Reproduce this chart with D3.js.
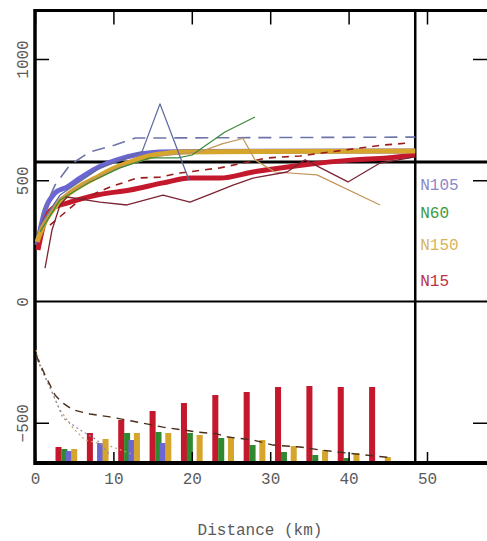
<!DOCTYPE html>
<html>
<head>
<meta charset="utf-8">
<script src="https://cdn.jsdelivr.net/npm/d3@7"></script>
<style>
  html, body { margin: 0; padding: 0; background: #fff; }
  svg { display: block; }
  text { font-family: "Liberation Mono", "DejaVu Sans Mono", monospace; }
</style>
</head>
<body>
<svg id="chart" width="487" height="541"></svg>
<script>
// ---------- data ----------
const distanceTicks = [0, 10, 20, 30, 40, 50];
const valueTicks = [-500, 0, 500, 1000];
const rightTicks = [-500, 500, 1000];
const stations = ["N105", "N60", "N150", "N15"];
const referenceLevel = 575;   // horizontal reference line
const cutoffDistance = 48.5;  // vertical divider (km)

// profiles: [distance km, value]
const n105Mean = [[0.26,233],[1.28,377],[2.55,447],[4.08,472],[5.74,509],[7.91,551],[10.46,584],[13.39,608],[15.94,617],[21.05,619],[48.5,621]];
const n150Mean = [[0.26,246],[1.28,328],[2.55,390],[4.08,439],[5.74,476],[7.91,513],[10.2,551],[12.12,575],[14.03,596],[15.94,608],[18.49,617],[48.5,621]];
const n15Mean  = [[0.38,212],[1.28,336],[2.55,390],[4.08,406],[7.91,439],[12.12,460],[16.33,489],[19.77,509],[23.6,509],[27.8,534],[34.2,563],[40.6,584],[44.9,592],[48.5,604]];

const n105Upper = [[0.89,357],[2.55,480],[4.46,563],[7.02,617],[10.2,645],[12.76,674],[48.5,678]];
const n15Upper  = [[1.91,315],[5.74,419],[9.57,472],[13.01,509],[15.94,513],[18.49,530],[23.6,551],[29.59,592],[33.8,600],[41.45,633],[44.39,645],[47.45,653]];

const n105Run = [[0.64,315],[3.19,439],[8.29,551],[13.65,617],[15.94,815],[19.64,501]];
const n60Run  = [[0.64,287],[3.19,419],[7.02,493],[10.84,551],[14.67,592],[18.24,592],[20.03,604],[24.23,699],[28.06,761]];
const n150Run = [[0.64,303],[3.19,427],[7.02,501],[10.84,555],[15.94,600],[21.05,617],[23.85,650],[26.53,672],[28.06,584],[30.61,534],[35.97,522],[44.01,398]];
const n15Run  = [[1.28,138],[2.17,295],[3.19,398],[4.08,431],[8.29,410],[11.73,398],[16.33,439],[19.77,410],[22.7,447],[25.26,480],[27.81,509],[32.14,534],[34.44,584],[39.92,493],[44.01,571],[48.5,596]];

// decay curves in the lower panel
const decayDark = [[0.13,-221],[1.28,-303],[2.55,-386],[3.57,-419],[4.85,-447],[7.02,-464],[9.57,-476],[13.01,-497],[16.33,-518],[20.66,-538],[23.21,-546],[24.62,-559],[27.81,-571],[30.36,-592],[33.8,-600],[36.35,-612],[39.8,-625],[45.66,-645]];
const decayTan  = [[0.13,-200],[0.89,-282],[1.91,-357],[3.19,-447],[4.85,-522],[6.38,-571],[9.57,-596],[13.39,-641]];
const decayGrey = [[0.26,-241],[1.91,-353],[3.57,-480],[5.74,-530],[7.91,-571],[9.57,-633]];

// bar counts per distance bin
const binCentres = [3, 7, 11, 15, 19, 23, 27, 31, 35, 39, 43];
const countN15  = [14, 28, 41, 50, 58, 66, 69, 74, 75, 74, 74];
const countN60  = [12, 0, 28, 29, 28, 23, 16, 9, 6, 3, 0];
const countN105 = [10, 18, 21, 18, 0, 0, 0, 0, 0, 0, 0];
const countN150 = [12, 22, 28, 28, 26, 24, 21, 15, 11, 8, 4];

// ---------- drawing ----------
const frameLeft = 35, frameTop = 10.5, frameBottom = 463, frameRight = 487;

const svg = d3.select("#chart");
const x = d3.scaleLinear().domain([0, 50]).range([35, 427]);
const y = d3.scaleLinear().domain([0, 1000]).range([301.5, 59]);
const yBar = d3.scaleLinear().domain([0, 80]).range([461, 381]);

const colors = {
  N105: "#6b66d2", N60: "#2f8a2f", N150: "#d6a62c", N15: "#c4182c"
};
const labelColors = {
  N105: "#8a88c6", N60: "#3c9a3c", N150: "#d8b458", N15: "#b83444"
};
const textGrey = "#5a5a5a";

// bars
const barW = x(0.77) - x(0);
const barSeries = [
  { key: "N15",  values: countN15,  offset: 0 },
  { key: "N60",  values: countN60,  offset: 0.75 },
  { key: "N105", values: countN105, offset: 1.3 },
  { key: "N150", values: countN150, offset: 2.0 }
];
const barG = svg.append("g");
barSeries.forEach(s => {
  barG.selectAll(null)
    .data(binCentres.map((c, i) => ({ c, v: s.values[i] })).filter(d => d.v > 0))
    .enter().append("rect")
    .attr("x", d => x(d.c + s.offset) - barW / 2)
    .attr("y", d => yBar(d.v))
    .attr("width", barW)
    .attr("height", d => yBar(0) - yBar(d.v))
    .attr("fill", colors[s.key]);
});

// frame and reference lines
const frame = svg.append("g").attr("stroke", "#000").attr("fill", "none");
frame.append("line").attr("x1", frameLeft).attr("x2", frameRight).attr("y1", frameTop).attr("y2", frameTop).attr("stroke-width", 3);
frame.append("line").attr("x1", frameLeft).attr("x2", frameRight).attr("y1", frameBottom).attr("y2", frameBottom).attr("stroke-width", 4);
frame.append("line").attr("x1", frameLeft).attr("x2", frameLeft).attr("y1", frameTop - 1.5).attr("y2", frameBottom + 2).attr("stroke-width", 3.5);
frame.append("line").attr("x1", frameLeft).attr("x2", frameRight).attr("y1", y(0)).attr("y2", y(0)).attr("stroke-width", 2);
frame.append("line").attr("x1", frameLeft).attr("x2", frameRight).attr("y1", y(referenceLevel)).attr("y2", y(referenceLevel)).attr("stroke-width", 3);
frame.append("line").attr("x1", x(cutoffDistance)).attr("x2", x(cutoffDistance)).attr("y1", frameTop).attr("y2", frameBottom).attr("stroke-width", 2.5);

// line generators
const line = d3.line().x(d => x(d[0])).y(d => y(d[1]));
const smooth = d3.line().x(d => x(d[0])).y(d => y(d[1])).curve(d3.curveMonotoneX);

function drawPath(data, gen, stroke, width, dash) {
  svg.append("path")
    .datum(data)
    .attr("d", gen)
    .attr("fill", "none")
    .attr("stroke", stroke)
    .attr("stroke-width", width)
    .attr("stroke-linejoin", "round")
    .attr("stroke-dasharray", dash || null);
}

// lower panel decay curves
drawPath(decayTan, line, "#c9a06a", 1.2, "2,3");
drawPath(decayGrey, line, "#8a8aa8", 1.2, "2,3");
drawPath(decayDark, line, "#4a2e1c", 1.4, "8,6");

// upper panel mean profiles
drawPath(n105Mean, smooth, colors.N105, 5);
drawPath(n15Mean, smooth, colors.N15, 5);
drawPath(n150Mean, smooth, colors.N150, 5);

// dashed envelopes
drawPath(n105Upper, line, "#6c74a8", 1.6, "13,8");
drawPath(n15Upper, line, "#9a1c1c", 1.6, "7,6");

// individual runs
drawPath(n150Run, line, "#c4955a", 1.2);
drawPath(n60Run, line, "#3a8a3a", 1.2);
drawPath(n15Run, line, "#7c2434", 1.3);
drawPath(n105Run, line, "#5e6a9e", 1.3);

// axes
const axisFont = g => g.selectAll("text")
  .attr("font-family", "'Liberation Mono', 'DejaVu Sans Mono', monospace")
  .attr("font-size", 16)
  .attr("fill", textGrey);

const xBottom = svg.append("g").attr("transform", `translate(0,${frameBottom})`)
  .call(d3.axisBottom(x).tickValues(distanceTicks).tickFormat(d3.format("d"))
    .tickSizeInner(-11).tickSizeOuter(0).tickPadding(10));
xBottom.select(".domain").remove();
xBottom.selectAll(".tick line").attr("stroke", "#000").attr("stroke-width", 1.5);
axisFont(xBottom);

// top axis: inward ticks only
const xTop = svg.append("g").attr("transform", `translate(0,${frameTop})`)
  .call(d3.axisTop(x).tickValues(distanceTicks).tickFormat("")
    .tickSizeInner(-14).tickSizeOuter(0));
xTop.select(".domain").remove();
xTop.selectAll(".tick line").attr("stroke", "#000").attr("stroke-width", 1.5);

const yLeft = svg.append("g").attr("transform", `translate(${frameLeft},0)`)
  .call(d3.axisLeft(y).tickValues(valueTicks).tickFormat(d3.format("d"))
    .tickSizeInner(-14).tickSizeOuter(0));
yLeft.select(".domain").remove();
yLeft.selectAll(".tick line").attr("stroke", "#000").attr("stroke-width", 1.5);
yLeft.selectAll(".tick").filter(d => d === 0).select("line").remove();
axisFont(yLeft);
yLeft.selectAll("text")
  .attr("x", null).attr("dy", null)
  .attr("text-anchor", "middle")
  .attr("transform", "translate(-7,0) rotate(-90)");

const yRight = svg.append("g").attr("transform", `translate(${frameRight},0)`)
  .call(d3.axisRight(y).tickValues(rightTicks).tickFormat("")
    .tickSizeInner(-14).tickSizeOuter(0));
yRight.select(".domain").remove();
yRight.selectAll(".tick line").attr("stroke", "#000").attr("stroke-width", 1.5);

// x-axis title
svg.append("text")
  .attr("x", 260).attr("y", 535)
  .attr("text-anchor", "middle")
  .attr("font-size", 16)
  .attr("fill", textGrey)
  .text("Distance (km)");

// station labels to the right of the divider
const labelRows = [190, 218, 250, 286];
svg.append("g").selectAll("text")
  .data(stations)
  .enter().append("text")
  .attr("x", x(cutoffDistance) + 5)
  .attr("y", (d, i) => labelRows[i])
  .attr("font-size", 16)
  .attr("fill", d => labelColors[d])
  .text(d => d);
</script>
</body>
</html>
